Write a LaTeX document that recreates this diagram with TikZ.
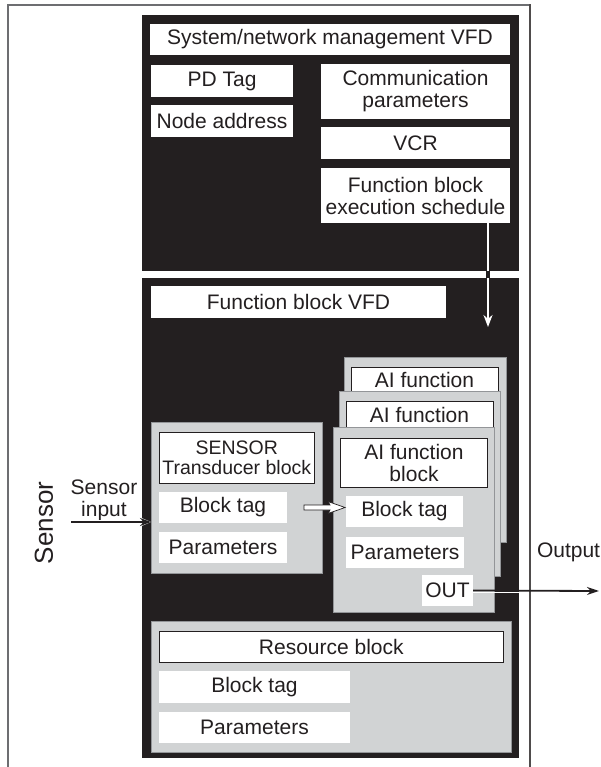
\documentclass[tikz,border=0pt]{standalone}
\usepackage{fontspec}
\setmainfont{Liberation Sans}
\usetikzlibrary{arrows.meta}
\definecolor{ink}{HTML}{231F20}
\definecolor{panel}{HTML}{D1D3D4}
\definecolor{panelline}{HTML}{939598}
\definecolor{framec}{HTML}{6D6E71}
\begin{document}
\begin{tikzpicture}[x=1pt,y=-1pt,
  every node/.style={inner sep=0pt, outer sep=0pt, font=\fontsize{21}{22}\selectfont, text=ink, align=center},
  wbox/.style={fill=white},
  bbox/.style={fill=white, draw=ink, line width=1pt},
  gbox/.style={fill=panel, draw=panelline, line width=0.7pt},
  darkbox/.style={fill=ink},
  sz/.style 2 args={minimum width=#1, minimum height=#2},
]
\useasboundingbox (0,0) rectangle (600,767);

% outer frame
\draw[framec, line width=2] (7.5,767) -- (7.5,5);
\draw[framec, line width=1.2] (7,5) -- (530,5);
\draw[ink!80, line width=1.3] (530,4.5) -- (530,767);

% black panels
\node[darkbox, sz={377}{256}] (top) at (330.5,143) {};
\node[darkbox, sz={377}{480}] (low) at (330.5,518) {};

% top panel content
\node[wbox, sz={360}{31}] (sys) at (330,39.5) {System/network management VFD};
\node[wbox, sz={142}{32}] (pdtag) at (222,81) {PD Tag};
\node[wbox, sz={142}{32}] (naddr) at (222,121) {Node address};
\node[wbox, sz={189}{55}] (comm) at (415.5,91.5) {Communication\\parameters};
\node[wbox, sz={189}{32}] (vcr) at (415.5,143) {VCR};
\node[wbox, sz={189}{55}] (sched) at (415.5,195.5) {Function block\\execution schedule};

% lower panel
\node[wbox, sz={295}{32}] (fbvfd) at (298.5,302) {Function block VFD};

% AI function stack
\node[gbox, sz={162}{185}] (aiback) at (425,449.5) {};
\node[bbox, sz={147}{26}] (aibackt) at (424.5,380) {AI function};
\node[gbox, sz={161}{185}] (aimid) at (419.5,483.5) {};
\node[bbox, sz={147}{27}] (aimidt) at (419.5,414.5) {AI function};
\node[gbox, sz={161}{185}] (aifront) at (413.5,519.5) {};
\node[bbox, sz={147}{49}] (aiblk) at (414,462.5) {AI function\\block};
\node[wbox, sz={117}{31}] (fbt) at (404.5,511.5) {Block tag};
\node[wbox, sz={118}{31}] (fpar) at (405,552.5) {Parameters};
\node[wbox, sz={51}{31}] (out) at (447.5,590.5) {OUT};

% sensor transducer
\node[gbox, sz={171.6}{151}] (sgray) at (236.8,497.5) {};
\node[bbox, sz={155.5}{51}, font=\fontsize{19.5}{20}\selectfont] (trans) at (236.75,457.5) {SENSOR\\Transducer block};
\node[wbox, sz={128}{31}] (sbt) at (223,507.5) {Block tag};
\node[wbox, sz={128}{31}] (spar) at (223,547.5) {Parameters};

% resource block
\node[gbox, sz={360}{131}] (rgray) at (331,686.5) {};
\node[bbox, sz={344.6}{31}] (rblk) at (331.3,646.5) {Resource block};
\node[wbox, sz={191}{32}] (rbt) at (254.5,687) {Block tag};
\node[wbox, sz={191}{31}] (rpar) at (254.5,727.5) {Parameters};

% schedule arrow
\coordinate (tip) at (488,327);
\draw[white, line width=2.4, -{Stealth[length=12pt,width=9pt]}] (sched.south -| tip) -- (tip);
\fill[ink] (486,271) rectangle (490,278);

% sensor input
\node[rotate=90, font=\fontsize{26}{28}\selectfont] (sensor) at (44,523) {Sensor};
\node (sinlbl) at (104,500) {Sensor\\input};
\coordinate (sin) at (71,522);
\draw[white, line width=3.4, -{Stealth[length=13pt,width=11pt]}] (sin) -- (sin -| sgray.west);
\draw[ink, line width=1.6, -{Stealth[length=11pt,width=8pt]}] (sin) -- (sin -| sgray.west);

% block tag transfer arrow
\path (sbt.east) ++(17,0) coordinate (ba1);
\filldraw[fill=white, draw=ink, line width=0.7] (ba1) ++(0,-2.5) -- ++(26,0) -- ++(-2,-3.5) -- ++(17,6) -- ++(-17,6) -- ++(2,-3.5) -- ++(-26,0) -- cycle;

% output
\coordinate (oend) at (599,591);
\draw[ink, line width=1.8, -{Stealth[length=12pt,width=8pt]}] (out.east) -- (oend);
\draw[white, line width=1.1] ([yshift=-1.8pt]out.east) -- ([yshift=-1.8pt]out.east -| low.east);
\node[anchor=west] (outlbl) at (537,552) {Output};
\end{tikzpicture}
\end{document}
